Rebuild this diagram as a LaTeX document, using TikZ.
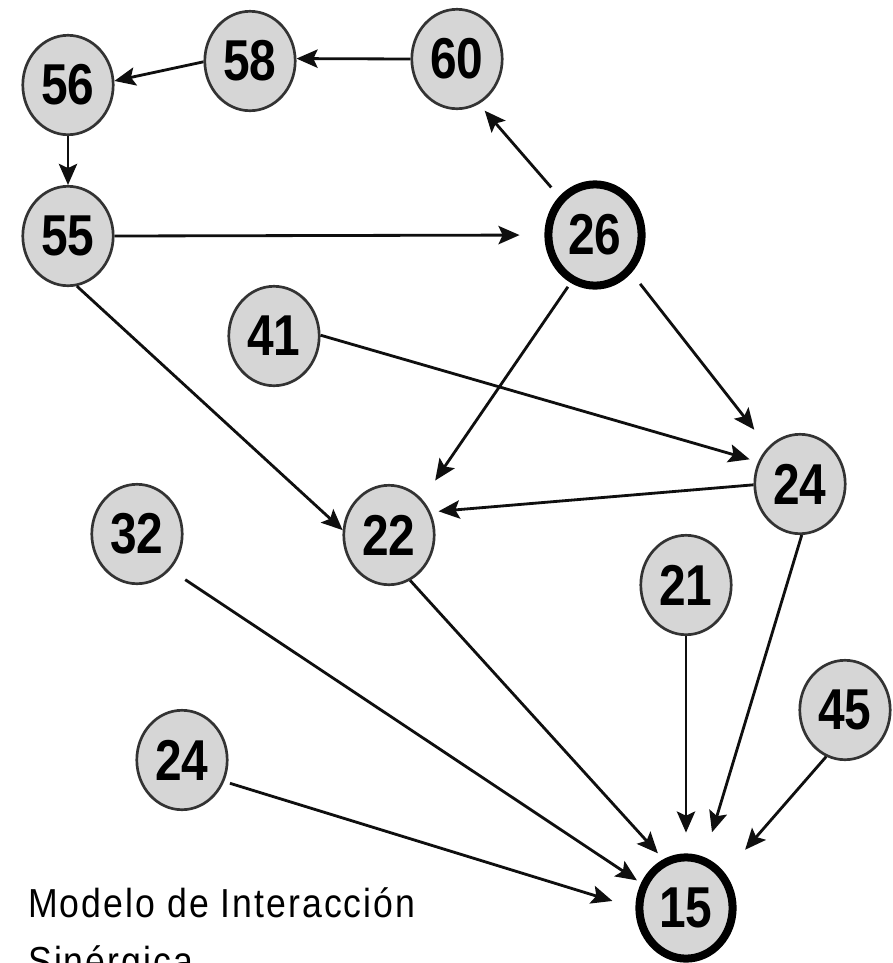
\documentclass[tikz,border=0pt]{standalone}
\usepackage{fontspec}
\setmainfont{Liberation Sans}
\newfontfamily\numfont[FakeStretch=0.83]{Liberation Sans}
\newfontfamily\lblfont[FakeStretch=0.88,LetterSpace=5]{Liberation Sans}
\usetikzlibrary{shapes.geometric,arrows.meta}
\definecolor{nodefill}{RGB}{214,214,214}
\definecolor{edgecol}{RGB}{15,15,15}
\begin{document}
\begin{tikzpicture}[x=0.025cm,y=-0.025cm,
  nd/.style={ellipse, draw=black!80, line width=1.9pt, fill=nodefill,
    minimum width=2.26cm, minimum height=2.485cm, inner sep=0pt,
    font=\numfont\bfseries\fontsize{41}{41}\selectfont},
  big/.style={nd, draw=black, line width=5.7pt, minimum width=2.33cm, minimum height=2.53cm},
  edge/.style={line width=2pt, draw=edgecol, -{Stealth[length=15pt,width=13pt,inset=3pt]}},
  lbl/.style={anchor=base west, inner sep=0pt, font=\lblfont\fontsize{28.8}{28.8}\selectfont}
]
\useasboundingbox[fill=white] (0,0) rectangle (893,963);
\node[nd] (n56) at (68,85) {56};
\node[nd] (n58) at (250,61) {58};
\node[nd] (n60) at (457,59) {60};
\node[nd] (n55) at (68,236) {55};
\node[big] (n26) at (595,235) {26};
\node[nd] (n41) at (274,336) {41};
\node[nd] (n24r) at (800,484) {24};
\node[nd] (n22) at (389,535) {22};
\node[nd] (n32) at (137,534) {32};
\node[nd] (n21) at (686,585) {21};
\node[nd] (n45) at (845,710) {45};
\node[nd] (n24l) at (182,760) {24};
\node[big] (n15) at (686,908) {15};

\draw[edge] (n60.180) -- (n58.3);
\draw[edge] (n58.181) -- (n56.5);
\draw[edge] (n56.south) -- (n55.north);
\draw[edge, shorten >=0.62cm] (n55.east) -- (n26.west);
\draw[edge, shorten <=0.3cm, shorten >=0.22cm] (n26.133) -- (n60.-64);
\draw[edge, shorten <=0.12cm, shorten >=0.57cm] (n26.243) -- (n22.47);
\draw[edge, shorten <=0.35cm, shorten >=0.55cm] (n26.-46) -- (n24r.131);
\draw[edge, shorten >=0.22cm] (n41.1) -- (n24r.152);
\draw[edge] (n55.-80) -- (n22.174);
\draw[edge, shorten >=0.2cm] (n24r.181) -- (n22.29);
\draw[edge, shorten >=0.65cm] (n24r.-88) -- (n15.70);
\draw[edge, shorten >=0.2cm] (n22.-65) -- (n15.115);
\draw[edge, shorten <=0.45cm, shorten >=0.12cm] (n32.-47) -- (n15.151);
\draw[edge, shorten >=0.52cm] (n21.south) -- (n15.north);
\draw[edge, shorten >=0.77cm] (n45.248) -- (n15.42);
\draw[edge, shorten <=0.15cm, shorten >=0.6cm] (n24l.-27) -- (n15.180);

\node[lbl] (lbl1) at (28,917) {Modelo de Interacción};
\node[lbl] (lbl2) at (28,975) {Sinérgica};
\end{tikzpicture}
\end{document}
